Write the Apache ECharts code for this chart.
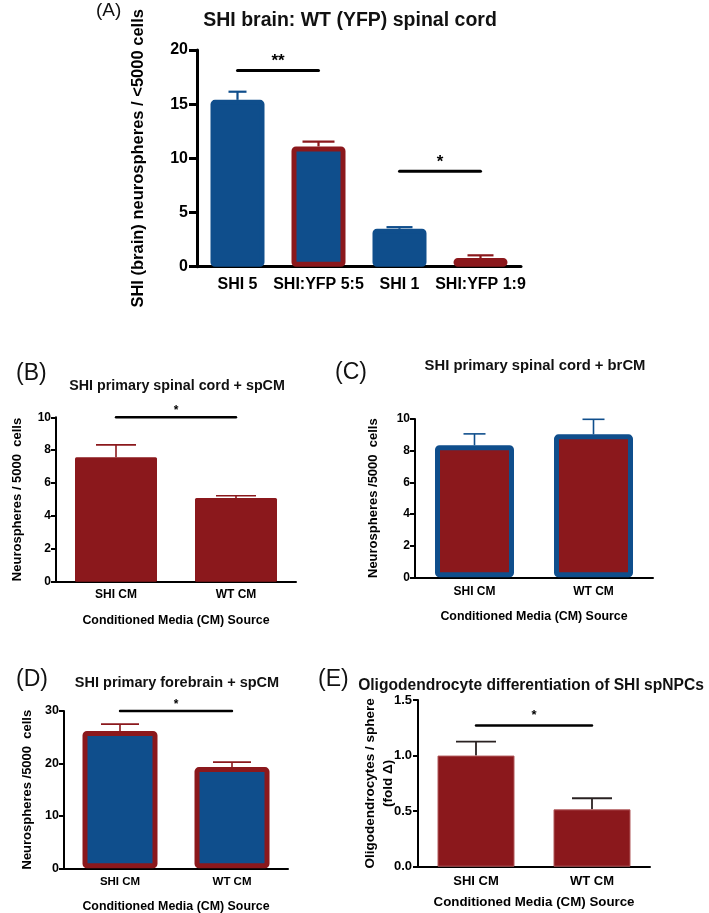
<!DOCTYPE html>
<html><head><meta charset="utf-8">
<script src="https://cdn.jsdelivr.net/npm/echarts@6/dist/echarts.min.js"></script>
<style>html,body{margin:0;padding:0;background:#fff}#c{width:709px;height:913px}</style>
</head><body><div id="c"></div><script>
// ---------- data ----------
const catsA = ['SHI 5', 'SHI:YFP 5:5', 'SHI 1', 'SHI:YFP 1:9'];
const meanA = [15.4, 11.1, 3.5, 0.8];
const semA  = [0.75, 0.45, 0.15, 0.25];
const sigA  = [[0, 1, 18.1], [2, 3, 8.8]];
const sigLabelsA = ['**', '*'];
const ticksA = {min: 0, max: 20, interval: 5};

const catsCM = ['SHI CM', 'WT CM'];
const meanB = [7.57, 5.09];
const semB  = [0.75, 0.14];
const sigB  = [[0, 1, 10]];
const ticksB = {min: 0, max: 10, interval: 2};

const meanC = [8.34, 9.03];
const semC  = [0.72, 0.95];
const ticksC = {min: 0, max: 10, interval: 2};

const meanD = [26.2, 19.3];
const semD  = [1.3, 0.95];
const sigD  = [[0, 1, 30]];
const ticksD = {min: 0, max: 30, interval: 10};

const meanE = [1.0, 0.516];
const semE  = [0.125, 0.1];
const sigE  = [[0, 1, 1.27]];
const ticksE = {min: 0, max: 1.5, interval: 0.5};

// ---------- styles ----------
const BLUE = '#0f4e8c', RED = '#8b181c', DARK = '#2a2222';
const FF = '"Liberation Sans", Arial, Helvetica, sans-serif';
const fillA = [BLUE, BLUE, BLUE, BLUE];
const borderA = [BLUE, RED, BLUE, RED];
const errColA = [BLUE, RED, BLUE, RED];
const capA = [18, 32, 26, 26];

function errRender(colors, caps, lw) {
  return function (params, api) {
    const i = params.dataIndex;
    const x = api.value(0), m = api.value(1), t = api.value(2);
    const p0 = api.coord([x, m]), p1 = api.coord([x, t]);
    const c = Array.isArray(colors) ? colors[i] : colors;
    const w = Array.isArray(caps) ? caps[i] : caps;
    return {type: 'group', children: [
      {type: 'line', shape: {x1: p0[0], y1: p0[1], x2: p1[0], y2: p1[1]}, style: {stroke: c, lineWidth: lw}},
      {type: 'line', shape: {x1: p1[0] - w / 2, y1: p1[1], x2: p1[0] + w / 2, y2: p1[1]}, style: {stroke: c, lineWidth: lw}}
    ]};
  };
}
function sigRender(labels, lw, fontSize, off, ext) {
  return function (params, api) {
    const i = params.dataIndex;
    const a = api.coord([api.value(0), api.value(2)]);
    const b = api.coord([api.value(1), api.value(2)]);
    return {type: 'group', children: [
      {type: 'line', shape: {x1: a[0] - ext, y1: a[1], x2: b[0] + ext, y2: b[1]}, style: {stroke: '#000', lineWidth: lw, lineCap: 'round'}},
      {type: 'text', x: (a[0] + b[0]) / 2, y: a[1] - off, style: {text: labels[i], font: 'bold ' + fontSize + 'px ' + FF, fill: '#000', align: 'center', verticalAlign: 'middle'}}
    ]};
  };
}
function errData(mean, sem) { return mean.map((m, i) => [i, m, m + sem[i]]); }

function xAx(idx, cats, o) {
  return {
    type: 'category', gridIndex: idx, data: cats,
    axisLine: {lineStyle: {color: '#000', width: o.lw}},
    axisTick: {alignWithLabel: true, interval: 0, length: o.tl, lineStyle: {color: '#000', width: o.lw}},
    axisLabel: {interval: 0, margin: o.lm, color: '#000', fontFamily: FF, fontWeight: 'bold', fontSize: o.fs},
    name: o.name || '', nameLocation: 'middle', nameGap: o.ng || 0, nameMoveOverlap: false,
    nameTextStyle: {color: '#000', fontFamily: FF, fontWeight: 'bold', fontSize: o.nfs || 12}
  };
}
function yAx(idx, t, o) {
  return {
    type: 'value', gridIndex: idx, min: t.min, max: t.max, interval: t.interval,
    splitLine: {show: false},
    axisLine: {show: true, lineStyle: {color: '#000', width: o.lw}},
    axisTick: {show: true, length: o.tl, lineStyle: {color: '#000', width: o.lw}},
    axisLabel: {margin: o.lm, color: '#000', fontFamily: FF, fontWeight: 'bold', fontSize: o.fs, formatter: o.fmt},
    name: o.name, nameLocation: 'middle', nameGap: o.ng, nameMoveOverlap: false,
    nameTextStyle: {color: '#000', fontFamily: FF, fontWeight: 'bold', fontSize: o.nfs, lineHeight: o.nlh}
  };
}
function txt(x, y, s, font, align) {
  return {type: 'text', x: x, y: y, style: {text: s, font: font, fill: '#111', align: align || 'center', verticalAlign: 'middle'}};
}

const chart = echarts.init(document.getElementById('c'), null, {renderer: 'canvas'});
const grid = (l, t, w, h) => ({left: l, top: t, width: w, height: h, outerBoundsMode: 'none', containLabel: false});

const option = {
  animation: false,
  backgroundColor: '#fff',
  grid: [
    grid(197, 50, 324, 216.7),
    grid(56, 417.3, 240, 164.4),
    grid(415, 419, 238, 158.3),
    grid(64, 711, 224, 157.3),
    grid(418, 700, 232, 166.7)
  ],
  xAxis: [
    xAx(0, catsA, {lw: 3, tl: 7, lm: 10, fs: 16}),
    xAx(1, catsCM, {lw: 2, tl: 5, lm: 7, fs: 12, name: 'Conditioned Media (CM) Source', ng: 33, nfs: 12.4}),
    xAx(2, catsCM, {lw: 2, tl: 5, lm: 8, fs: 12, name: 'Conditioned Media (CM) Source', ng: 33, nfs: 12.4}),
    xAx(3, catsCM, {lw: 2, tl: 5, lm: 8, fs: 11.5, name: 'Conditioned Media (CM) Source', ng: 32, nfs: 12.4}),
    xAx(4, catsCM, {lw: 2, tl: 5, lm: 8, fs: 13, name: 'Conditioned Media (CM) Source', ng: 29.5, nfs: 13.3})
  ],
  yAxis: [
    yAx(0, ticksA, {lw: 3, tl: 8, lm: 9, fs: 16, name: 'SHI (brain) neurospheres / <5000 cells', ng: 50, nfs: 16.5}),
    yAx(1, ticksB, {lw: 2, tl: 5, lm: 5, fs: 12, name: 'Neurospheres / 5000  cells', ng: 32, nfs: 13}),
    yAx(2, ticksC, {lw: 2, tl: 5, lm: 5, fs: 12, name: 'Neurospheres /5000  cells', ng: 35, nfs: 13}),
    yAx(3, ticksD, {lw: 2, tl: 5, lm: 5, fs: 12.5, name: 'Neurospheres /5000  cells', ng: 30, nfs: 13}),
    yAx(4, ticksE, {lw: 2, tl: 5, lm: 6, fs: 13, name: 'Oligodendrocytes / sphere\n(fold Δ)', ng: 21, nfs: 13.5, nlh: 18,
      fmt: v => v.toFixed(1)})
  ],
  series: [
    // Panel A
    {type: 'custom', xAxisIndex: 0, yAxisIndex: 0, z: 1, renderItem: errRender(errColA, capA, 2.2), data: errData(meanA, semA)},
    {type: 'bar', xAxisIndex: 0, yAxisIndex: 0, z: 2, barWidth: 54,
      data: meanA.map((v, i) => ({value: v, itemStyle: {color: fillA[i], borderColor: borderA[i], borderWidth: 5, borderRadius: 2}}))},
    {type: 'custom', xAxisIndex: 0, yAxisIndex: 0, z: 3, renderItem: sigRender(sigLabelsA, 3, 17, 9, 0), data: sigA},
    // Panel B
    {type: 'custom', xAxisIndex: 1, yAxisIndex: 1, z: 1, renderItem: errRender(RED, 40, 1.6), data: errData(meanB, semB)},
    {type: 'bar', xAxisIndex: 1, yAxisIndex: 1, z: 2, barWidth: 82, itemStyle: {color: RED, borderRadius: 1.5}, data: meanB},
    {type: 'custom', xAxisIndex: 1, yAxisIndex: 1, z: 3, renderItem: sigRender(['*'], 2.4, 12, 7, 0), data: sigB},
    // Panel C
    {type: 'custom', xAxisIndex: 2, yAxisIndex: 2, z: 1, renderItem: errRender(BLUE, 22, 1.6), data: errData(meanC, semC)},
    {type: 'bar', xAxisIndex: 2, yAxisIndex: 2, z: 2, barWidth: 79, itemStyle: {color: RED, borderColor: BLUE, borderWidth: 5, borderRadius: 2}, data: meanC},
    // Panel D
    {type: 'custom', xAxisIndex: 3, yAxisIndex: 3, z: 1, renderItem: errRender(RED, 38, 1.6), data: errData(meanD, semD)},
    {type: 'bar', xAxisIndex: 3, yAxisIndex: 3, z: 2, barWidth: 75, itemStyle: {color: BLUE, borderColor: RED, borderWidth: 5, borderRadius: 2}, data: meanD},
    {type: 'custom', xAxisIndex: 3, yAxisIndex: 3, z: 3, renderItem: sigRender(['*'], 2.4, 12, 6, 0), data: sigD},
    // Panel E
    {type: 'custom', xAxisIndex: 4, yAxisIndex: 4, z: 1, renderItem: errRender(DARK, 40, 1.8), data: errData(meanE, semE)},
    {type: 'bar', xAxisIndex: 4, yAxisIndex: 4, z: 2, barWidth: 77, itemStyle: {color: RED, borderColor: '#b0585a', borderWidth: 1}, data: meanE},
    {type: 'custom', xAxisIndex: 4, yAxisIndex: 4, z: 3, renderItem: sigRender(['*'], 2.4, 13, 10, 0), data: sigE}
  ],
  graphic: [
    txt(96, 11, '(A)', '19px ' + FF, 'left'),
    txt(350, 21, 'SHI brain: WT (YFP) spinal cord', 'bold 19.5px ' + FF),
    txt(16, 374, '(B)', '23px ' + FF, 'left'),
    txt(177, 386, 'SHI primary spinal cord + spCM', 'bold 14.3px ' + FF),
    txt(335, 373, '(C)', '23px ' + FF, 'left'),
    txt(535, 366, 'SHI primary spinal cord + brCM', 'bold 14.8px ' + FF),
    txt(16, 680, '(D)', '23px ' + FF, 'left'),
    txt(177, 683, 'SHI primary forebrain + spCM', 'bold 14.5px ' + FF),
    txt(318, 680, '(E)', '23px ' + FF, 'left'),
    txt(531, 686, 'Oligodendrocyte differentiation of SHI spNPCs', 'bold 15.6px ' + FF)
  ]
};
chart.setOption(option);
</script></body></html>
